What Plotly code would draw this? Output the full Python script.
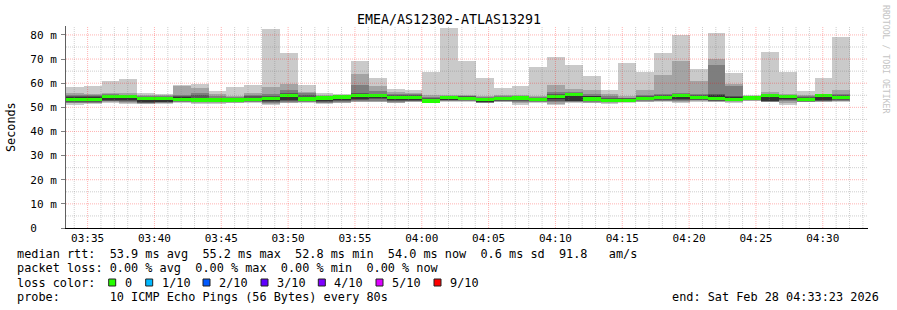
import datetime as dt
import plotly.graph_objects as go

# ---------------- data (ms) ----------------
title = "EMEA/AS12302-ATLAS13291"
start_time = "2026-02-28 03:33:23"
step_s = 80
# sorted ping values per 80 s bin (10 pings): p10 = max ... p1 = min
ping_max = [58.6, 59.0, 61.1, 61.8, 56.0, 55.5, 59.3, 59.7, 56.8, 58.4, 59.3, 82.5, 72.5, 59.3, 56.0,
            55.5, 69.4, 62.2, 57.6, 57.2, 64.8, 82.9, 69.0, 62.2, 58.0, 59.0, 66.7, 70.9, 67.6, 63.0,
            57.2, 68.4, 64.8, 72.5, 80.0, 65.9, 80.8, 64.2, 55.1, 73.0, 64.8, 56.9, 62.2, 79.3]
ping_p9 = [55.8, 55.6, 56.1, 55.8, 55.2, 55.0, 59.0, 58.0, 55.5, 54.8, 55.8, 58.6, 59.7, 56.3, 55.0,
           55.0, 63.8, 58.9, 56.2, 56.0, 55.0, 55.2, 55.2, 54.6, 55.2, 55.0, 54.6, 59.3, 57.6, 57.2,
           55.5, 54.5, 57.2, 63.6, 69.4, 60.8, 70.2, 59.7, 54.8, 56.2, 55.5, 55.0, 55.6, 57.2]
ping_p8 = [55.3, 55.0, 55.6, 55.3, 54.6, 54.6, 55.2, 56.0, 54.5, 54.2, 55.0, 55.5, 57.3, 55.8, 54.7,
           54.8, 59.3, 56.9, 55.4, 55.4, 54.4, 54.9, 54.8, 54.2, 54.6, 54.6, 54.3, 56.2, 56.2, 55.5,
           54.5, 54.0, 55.3, 55.6, 56.0, 55.5, 67.6, 58.9, 54.6, 55.4, 55.2, 54.5, 55.3, 55.5]
ping_p7 = [54.8, 54.6, 55.2, 55.0, 54.3, 54.3, 54.6, 55.0, 54.0, 53.8, 54.5, 54.5, 55.8, 55.0, 54.5,
           54.6, 56.0, 55.6, 55.0, 55.0, 54.0, 54.7, 54.5, 54.0, 54.2, 54.3, 54.0, 55.6, 55.8, 54.9,
           54.0, 53.8, 54.8, 55.0, 55.5, 55.0, 55.6, 54.6, 54.4, 55.2, 55.0, 54.2, 55.2, 55.0]
ping_p6 = [54.3, 54.2, 55.0, 54.8, 54.0, 54.0, 54.2, 54.0, 53.6, 53.5, 54.0, 54.2, 55.4, 54.2, 54.3,
           54.4, 55.2, 55.2, 54.6, 54.6, 53.6, 54.5, 54.2, 53.7, 54.0, 54.1, 53.8, 55.2, 55.5, 54.6,
           53.6, 53.5, 54.4, 54.6, 55.2, 54.6, 55.0, 54.2, 54.2, 55.0, 54.9, 53.8, 55.0, 54.7]
median = [53.2, 53.2, 54.6, 54.4, 53.6, 53.6, 53.2, 53.0, 53.0, 53.0, 53.2, 53.6, 54.8, 53.5, 53.8,
          54.3, 54.8, 54.9, 54.2, 54.0, 52.6, 54.2, 53.7, 53.3, 53.7, 53.9, 53.2, 54.6, 55.2, 53.5,
          52.9, 52.9, 53.7, 54.1, 54.9, 54.0, 53.7, 53.3, 53.9, 54.9, 54.6, 53.2, 54.9, 54.2]
ping_p5 = [52.6, 52.5, 53.2, 52.9, 52.2, 52.4, 52.9, 52.6, 52.6, 52.6, 52.8, 52.7, 53.0, 52.8, 52.5,
           52.9, 53.3, 53.8, 53.0, 53.2, 52.2, 53.2, 53.0, 52.3, 53.0, 52.9, 52.7, 53.3, 52.8, 53.1,
           52.5, 52.6, 53.1, 53.3, 53.3, 53.4, 52.9, 52.9, 53.1, 52.6, 53.4, 52.8, 52.9, 53.3]
ping_p4 = [52.3, 52.2, 52.8, 52.6, 51.9, 52.1, 52.6, 52.4, 52.4, 52.4, 52.6, 52.4, 52.6, 52.6, 52.2,
           52.6, 53.0, 53.4, 52.6, 52.8, 52.0, 53.0, 52.9, 52.1, 52.8, 52.5, 52.5, 52.6, 52.5, 52.6,
           52.3, 52.5, 52.9, 53.0, 53.0, 53.2, 52.7, 52.7, 53.0, 52.5, 53.0, 52.6, 52.7, 53.0]
ping_p3 = [52.0, 51.9, 52.5, 52.3, 51.7, 51.9, 52.4, 52.1, 52.1, 52.2, 52.4, 52.0, 52.2, 52.4, 52.0,
           52.3, 52.7, 52.8, 52.3, 52.6, 51.9, 52.8, 52.8, 52.0, 52.6, 52.2, 52.3, 52.1, 52.3, 52.3,
           52.1, 52.3, 52.7, 52.8, 52.6, 53.0, 52.5, 52.5, 52.9, 52.3, 52.5, 52.4, 52.5, 52.8]
ping_p2 = [51.6, 51.6, 52.2, 51.9, 51.5, 51.6, 52.2, 51.8, 51.8, 52.0, 52.2, 51.5, 51.9, 52.2, 51.7,
           51.9, 52.4, 52.4, 52.0, 52.4, 51.8, 52.5, 52.6, 51.9, 52.4, 51.6, 52.1, 51.5, 52.1, 52.0,
           51.9, 52.1, 52.4, 52.5, 52.3, 52.7, 52.3, 52.2, 52.8, 52.2, 51.6, 52.3, 52.3, 52.6]
ping_min = [51.0, 51.4, 51.8, 51.4, 51.4, 51.4, 51.8, 51.4, 51.4, 51.8, 52.0, 51.0, 51.8, 52.0, 51.4,
            51.6, 52.1, 52.1, 51.8, 52.1, 51.7, 52.1, 52.4, 51.8, 52.2, 51.0, 51.8, 51.0, 51.8, 51.8,
            51.4, 51.8, 52.1, 52.1, 51.8, 52.4, 52.1, 51.8, 52.5, 52.1, 51.0, 52.1, 52.1, 52.4]

y_ticks = [0, 10, 20, 30, 40, 50, 60, 70, 80]
y_tick_text = ["0\u00a0\u00a0\u00a0", "10 m", "20 m", "30 m", "40 m", "50 m", "60 m", "70 m", "80 m"]
y_minor_grid = [5, 15, 25, 35, 45, 55, 65, 75]
y_top = 83.7

loss_labels = ["0", "1/10", "2/10", "3/10", "4/10", "5/10", "9/10"]
loss_colors = ["#26ff00", "#00b8ff", "#0059ff", "#5e00ff", "#7e00ff", "#dd00ff", "#ff0000"]

line1 = "median rtt:  53.9 ms avg  55.2 ms max  52.8 ms min  54.0 ms now  0.6 ms sd  91.8   am/s"
line2 = "packet loss: 0.00 % avg  0.00 % max  0.00 % min  0.00 % now"
line3 = "loss color:"
line4 = "probe:       10 ICMP Echo Pings (56 Bytes) every 80s"
end_text = "end: Sat Feb 28 04:33:23 2026"
side_text = "RRDTOOL / TOBI OETIKER"

# ---------------- geometry ----------------
W, H = 897, 310
PL, PR, PT, PB = 66, 868, 26, 228   # plot area in pixels
MONO = "DejaVu Sans Mono"


def px(x):
    return (x - PL) / (PR - PL)


def py(y):
    return (PB - y) / (PB - PT)


t0 = dt.datetime.strptime(start_time, "%Y-%m-%d %H:%M:%S")
t_end = t0 + dt.timedelta(hours=1)
n = len(median)
centers = [t0 + dt.timedelta(seconds=step_s * i + step_s / 2) for i in range(n)]
width_ms = step_s * 1000

fig = go.Figure()

bands = [
    (ping_min, ping_max, "#cacaca"),
    (ping_p2, ping_p9, "#a4a4a4"),
    (ping_p3, ping_p8, "#7e7e7e"),
    (ping_p4, ping_p7, "#585858"),
    (ping_p5, ping_p6, "#323232"),
]
for lo, hi, col in bands:
    fig.add_trace(go.Bar(
        x=centers, base=lo, y=[h - l for l, h in zip(lo, hi)], width=width_ms,
        marker=dict(color=col, line=dict(width=0)), hoverinfo="skip", showlegend=False))

med_thick = 1.4
fig.add_trace(go.Bar(
    x=centers, base=[m - med_thick / 2 for m in median], y=[med_thick] * n, width=width_ms,
    marker=dict(color=loss_colors[0], line=dict(width=0)), hoverinfo="skip", showlegend=False))

# axis arrows
fig.add_trace(go.Scatter(x=[t0], y=[y_top + 1.3], mode="markers", cliponaxis=False,
                         marker=dict(symbol="triangle-up", size=6, color="#8b1a1a"),
                         hoverinfo="skip", showlegend=False))
fig.add_trace(go.Scatter(x=[t_end + dt.timedelta(seconds=10)], y=[0], mode="markers", cliponaxis=False,
                         marker=dict(symbol="triangle-right", size=6, color="#8b1a1a"),
                         hoverinfo="skip", showlegend=False))

grid_minor = "rgba(128,128,128,0.38)"
grid_major = "rgba(255,0,0,0.30)"
DOT = "1px,1px"

fig.update_layout(
    width=W, height=H,
    margin=dict(l=PL, r=W - PR, t=PT, b=H - PB, pad=0),
    paper_bgcolor="white", plot_bgcolor="white",
    barmode="overlay", bargap=0,
    showlegend=False,
    font=dict(family=MONO, size=11, color="black"),
    xaxis=dict(
        type="date", range=[t0, t_end],
        tick0="2026-02-28 03:35:00", dtick=300000, tickformat="%H:%M",
        showgrid=False,
        showline=True, linecolor="black", linewidth=1,
        ticks="", zeroline=False, fixedrange=True, layer="above traces",
        tickfont=dict(family=MONO, size=11, color="black"),
    ),
    yaxis=dict(
        range=[0, y_top], tickvals=y_ticks, ticktext=y_tick_text,
        showgrid=False,
        showline=True, linecolor="#606060", linewidth=1,
        ticks="outside", ticklen=4, tickcolor="#808080",
        zeroline=False, fixedrange=True, layer="above traces",
        tickfont=dict(family=MONO, size=11, color="black"),
        ticklabelstandoff=2,
    ),
)

# grid drawn on top of the smoke, as rrdtool does
shapes = []
minute = t0.replace(second=0) + dt.timedelta(minutes=1)
while minute < t_end:
    major = minute.minute % 5 == 0
    shapes.append(dict(type="line", xref="x", yref="paper", x0=minute, x1=minute, y0=0, y1=1,
                       layer="above",
                       line=dict(color=grid_major if major else grid_minor, width=1, dash=DOT)))
    minute += dt.timedelta(minutes=1)
for v in y_ticks[1:]:
    shapes.append(dict(type="line", xref="paper", yref="y", x0=0, x1=1, y0=v, y1=v, layer="above",
                       line=dict(color=grid_major, width=1, dash=DOT)))
for v in y_minor_grid:
    shapes.append(dict(type="line", xref="paper", yref="y", x0=0, x1=1, y0=v, y1=v, layer="above",
                       line=dict(color=grid_minor, width=1, dash=DOT)))

ann = []
ann.append(dict(text=title, x=px(448.5), y=py(20), xref="paper", yref="paper",
                xanchor="center", yanchor="middle", showarrow=False,
                font=dict(family=MONO, size=13.3, color="black")))
ann.append(dict(text="Seconds", x=px(11), y=py(127), xref="paper", yref="paper",
                xanchor="center", yanchor="middle", showarrow=False, textangle=-90,
                font=dict(family=MONO, size=11.8, color="black")))
ann.append(dict(text=side_text, x=px(886), y=py(59), xref="paper", yref="paper",
                xanchor="center", yanchor="middle", showarrow=False, textangle=90,
                font=dict(family=MONO, size=8.2, color="#c4c4c4")))
for txt, yy in [(line1, 254), (line2, 268), (line3, 282.5), (line4, 297)]:
    ann.append(dict(text=txt.replace(" ", "\u00a0"), x=px(14.5), y=py(yy), xref="paper", yref="paper",
                    xanchor="left", yanchor="middle", showarrow=False,
                    font=dict(family=MONO, size=11.85, color="black")))
ann.append(dict(text=end_text.replace(" ", "\u00a0"), x=px(881), y=py(297), xref="paper", yref="paper",
                xanchor="right", yanchor="middle", showarrow=False,
                font=dict(family=MONO, size=11.85, color="black")))

box_x = [108.7, 145.7, 203.0, 261.0, 318.3, 376.0, 434.0]
label_x = [122.5, 159.5, 217.0, 275.0, 332.3, 390.0, 448.0]
for bx, lx, lab, col in zip(box_x, label_x, loss_labels, loss_colors):
    shapes.append(dict(type="rect", xref="paper", yref="paper",
                       x0=px(bx), x1=px(bx + 7), y0=py(286), y1=py(279),
                       fillcolor=col, line=dict(color="#202020", width=1)))
    ann.append(dict(text=lab, x=px(lx), y=py(282.5), xref="paper", yref="paper",
                    xanchor="left", yanchor="middle", showarrow=False,
                    font=dict(family=MONO, size=11.85, color="black")))

fig.update_layout(annotations=ann, shapes=shapes)
fig.write_html("out.html")
